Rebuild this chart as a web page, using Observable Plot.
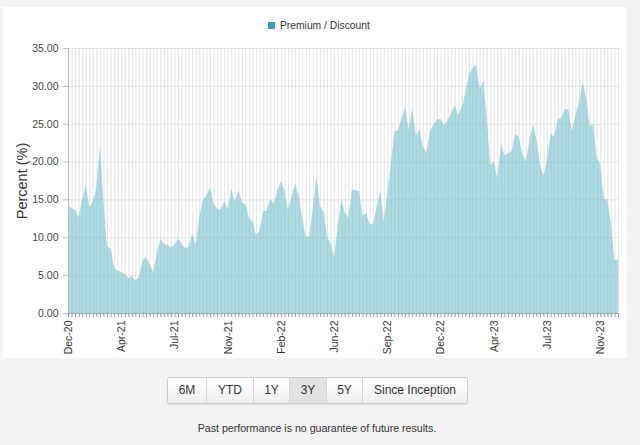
<!DOCTYPE html>
<html>
<head>
<meta charset="utf-8">
<script src="https://cdn.jsdelivr.net/npm/d3@7"></script>
<script src="https://cdn.jsdelivr.net/npm/@observablehq/plot@0.6"></script>
<style>
  html, body { margin: 0; padding: 0; background: #f3f3f3; width: 640px; height: 445px; overflow: hidden;
    font-family: "Liberation Sans", Arial, sans-serif; }
  #panel { position: absolute; left: 3px; top: 7px; width: 624px; height: 351px; background: #fff; }
  #chart { position: absolute; left: 0; top: 0; }
  #legend { position: absolute; left: 268px; top: 20px; font-size: 10.3px; color: #333; display: flex; align-items: center; }
  #legend .sw { width: 7px; height: 7px; background: #37a0b3; margin-right: 5px; }
  #ylabel { position: absolute; left: 22px; top: 181px; transform: translate(-50%, -50%) rotate(-90deg);
    font-size: 14.5px; color: #333; white-space: nowrap; }
  #buttons { position: absolute; left: 167px; top: 377px; height: 25px; display: flex; border: 1px solid #ccc;
    border-radius: 3px; overflow: hidden; box-shadow: 0 1px 1px rgba(0,0,0,0.08); }
  #buttons div { font-size: 12px; color: #333; line-height: 24px; text-align: center;
    background: linear-gradient(#ffffff, #efefef); border-left: 1px solid #d5d5d5; box-sizing: border-box; }
  #buttons div:first-child { border-left: none; }
  #buttons div.active { background: #e2e2e2; }
  #note { position: absolute; left: 0; width: 634px; top: 422px; text-align: center; font-size: 10.6px; color: #333; }
</style>
</head>
<body>
<div id="panel"></div>
<div id="chart"></div>
<div id="legend"><div class="sw"></div><span>Premium / Discount</span></div>
<div id="ylabel">Percent (%)</div>
<div id="buttons"></div>
<div id="note">Past performance is no guarantee of future results.</div>
<script>
// Weekly premium/discount values (%), Dec-20 .. Dec-23
const premium = [
  14.3, 13.8, 13.6, 12.6, 15.1, 16.9, 14.0, 14.7, 16.7, 22.0,
  14.6, 8.8, 8.5, 6.0, 5.6, 5.4, 5.2, 4.6, 4.9, 4.3,
  4.8, 7.0, 7.3, 6.5, 5.3, 7.8, 9.8, 9.1, 9.0, 8.7,
  8.9, 9.9, 9.1, 8.6, 8.7, 10.5, 9.0, 12.8, 14.9, 15.5,
  16.6, 14.4, 13.8, 13.6, 14.8, 13.7, 16.4, 14.7, 16.2, 14.7,
  14.3, 12.6, 12.1, 10.3, 10.9, 13.5, 13.5, 15.1, 14.4, 16.2,
  17.4, 16.2, 13.6, 15.4, 17.1, 15.6, 12.5, 10.1, 10.1, 14.0,
  18.0, 14.1, 13.4, 10.1, 9.2, 7.4, 11.5, 15.0, 13.2, 12.6,
  16.3, 16.2, 16.1, 12.8, 13.2, 11.7, 11.8, 14.1, 16.1, 12.1,
  15.9, 19.8, 24.0, 24.1, 25.8, 27.2, 24.2, 27.1, 23.4, 24.3,
  22.0, 21.1, 24.0, 24.9, 25.6, 25.6, 24.8, 25.6, 26.4, 27.4,
  26.2, 27.3, 29.1, 31.5, 32.4, 32.8, 29.5, 30.7, 26.0, 19.6,
  20.0, 17.8, 22.4, 20.8, 21.1, 21.4, 23.6, 23.3, 21.1, 20.0,
  22.7, 25.0, 23.0, 19.6, 18.1, 20.3, 23.7, 23.3, 25.6, 25.8,
  26.9, 26.9, 24.0, 26.2, 27.8, 30.4, 28.6, 24.7, 25.0, 20.5,
  19.6, 15.0, 15.0, 11.9, 7.0, 7.1
];
const xTickLabels = ["Dec-20", "Apr-21", "Jul-21", "Nov-21", "Feb-22", "Jun-22",
                     "Sep-22", "Dec-22", "Apr-23", "Jul-23", "Nov-23"];
const labelEvery = 15; // one labelled tick every 15 weeks
const yTicks = [0, 5, 10, 15, 20, 25, 30, 35];
const buttons = ["6M", "YTD", "1Y", "3Y", "5Y", "Since Inception"];
const buttonWidths = [38, 47, 36, 37, 36, 105];
const activeButton = "3Y";

const rows = premium.map((v, i) => ({i, v}));
const allIdx = d3.range(premium.length);
const labelIdx = xTickLabels.map((_, k) => k * labelEvery);

const chart = Plot.plot({
  width: 640,
  height: 360,
  marginLeft: 68,
  marginRight: 22,
  marginTop: 48,
  marginBottom: 47,
  style: {fontFamily: '"Liberation Sans", Arial, sans-serif', background: "transparent", color: "#333"},
  x: {domain: [0, premium.length - 1]},
  y: {domain: [0, 35]},
  marks: [
    Plot.gridX(allIdx, {stroke: "#e4e4e4", strokeOpacity: 1}),
    Plot.gridY(yTicks, {stroke: "#e2e2e2", strokeOpacity: 1}),
    Plot.areaY(rows, {x: "i", y: "v", fill: "#6bbcc9", fillOpacity: 0.55}),
    Plot.ruleY([0], {stroke: "#aaa"}),
    Plot.ruleX([0], {stroke: "#bbb"}),
    Plot.axisY({ticks: yTicks, tickFormat: d => d.toFixed(2), tickSize: 5, tickPadding: 5,
      fontSize: 10.5, label: null, stroke: "#bbb", fill: "#444"}),
    Plot.axisX({ticks: allIdx, tickFormat: () => "", tickSize: 4, label: null, stroke: "#999"}),
    Plot.axisX({ticks: labelIdx, tickFormat: i => xTickLabels[i / labelEvery], tickRotate: -90,
      tickSize: 0, tickPadding: 7, fontSize: 10.5, label: null, fill: "#333"})
  ]
});
document.getElementById("chart").appendChild(chart);

const bdiv = document.getElementById("buttons");
buttons.forEach((b, k) => {
  const d = document.createElement("div");
  d.textContent = b;
  d.style.width = buttonWidths[k] + "px";
  if (b === activeButton) d.className = "active";
  bdiv.appendChild(d);
});
</script>
</body>
</html>
